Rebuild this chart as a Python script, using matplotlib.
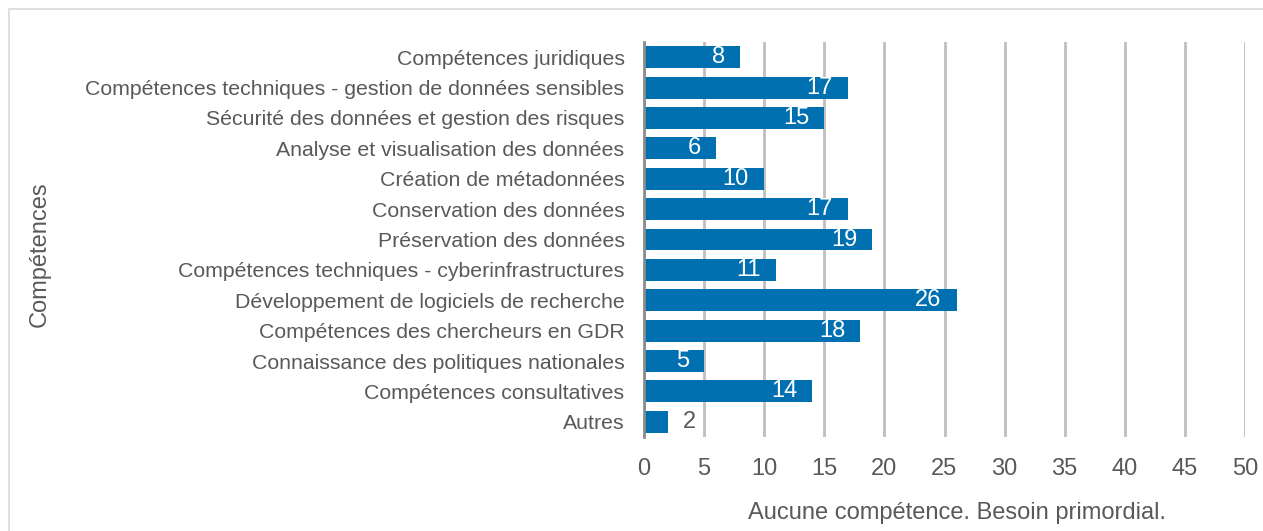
import matplotlib.pyplot as plt
from matplotlib.patches import Rectangle

plt.rcParams["font.family"] = ["Liberation Sans", "DejaVu Sans"]

categories = [
    "Compétences juridiques",
    "Compétences techniques - gestion de données sensibles",
    "Sécurité des données et gestion des risques",
    "Analyse et visualisation des données",
    "Création de métadonnées",
    "Conservation des données",
    "Préservation des données",
    "Compétences techniques - cyberinfrastructures",
    "Développement de logiciels de recherche",
    "Compétences des chercheurs en GDR",
    "Connaissance des politiques nationales",
    "Compétences consultatives",
    "Autres",
]
values = [8, 17, 15, 6, 10, 17, 19, 11, 26, 18, 5, 14, 2]
x_ticks = [0, 5, 10, 15, 20, 25, 30, 35, 40, 45, 50]

BAR_COLOR = "#0070b0"
TEXT_COLOR = "#595959"


def main() -> None:
    fig = plt.figure(figsize=(12.63, 5.31), dpi=100)
    fig.patches.append(
        Rectangle((9 / 1263, -0.1), 1.2, 1 - 9 / 531 + 0.1, transform=fig.transFigure,
                  fill=False, edgecolor="#d9d9d9", linewidth=1.2)
    )
    ax = fig.add_axes([644 / 1263, 1 - 437 / 531, (1245 - 644) / 1263, (437 - 42) / 531])

    positions = list(range(len(categories)))
    ax.barh(positions, values, height=0.72, color=BAR_COLOR, zorder=3)
    ax.set_ylim(len(categories) - 0.5, -0.5)
    ax.set_xlim(0, 50)
    ax.set_yticks(positions)
    ax.set_yticklabels(categories, fontsize=15.3, color=TEXT_COLOR)
    ax.set_xticks(x_ticks)
    ax.set_xticklabels([str(t) for t in x_ticks], fontsize=17, color=TEXT_COLOR)
    ax.tick_params(axis="y", length=0, pad=14)
    ax.tick_params(axis="x", length=0, pad=15)

    for pos, val in zip(positions, values):
        if val >= 4:
            ax.annotate(str(val), (val, pos), xytext=(-11, 0), textcoords="offset points",
                        ha="right", va="center", color="white", fontsize=17, zorder=4)
        else:
            ax.annotate(str(val), (val, pos), xytext=(11, 0), textcoords="offset points",
                        ha="left", va="center", color=TEXT_COLOR, fontsize=17, zorder=4)

    ax.grid(axis="x", color="#bfbfbf", linewidth=2, zorder=0)
    for side in ("top", "right", "bottom"):
        ax.spines[side].set_visible(False)
    ax.spines["left"].set_color("#8c8c8c")
    ax.spines["left"].set_linewidth(2)
    ax.spines["left"].set_zorder(5)

    ax.set_xlabel("Aucune compétence. Besoin primordial.", fontsize=17, color=TEXT_COLOR, labelpad=16)
    ax.xaxis.label.set_x(0.52)
    fig.text(40 / 1263, 1 - 254 / 531, "Compétences", rotation=90, ha="center", va="center",
             fontsize=17, color=TEXT_COLOR)

    fig.savefig("out.png", dpi=100)
    plt.close(fig)


if __name__ == "__main__":
    main()
